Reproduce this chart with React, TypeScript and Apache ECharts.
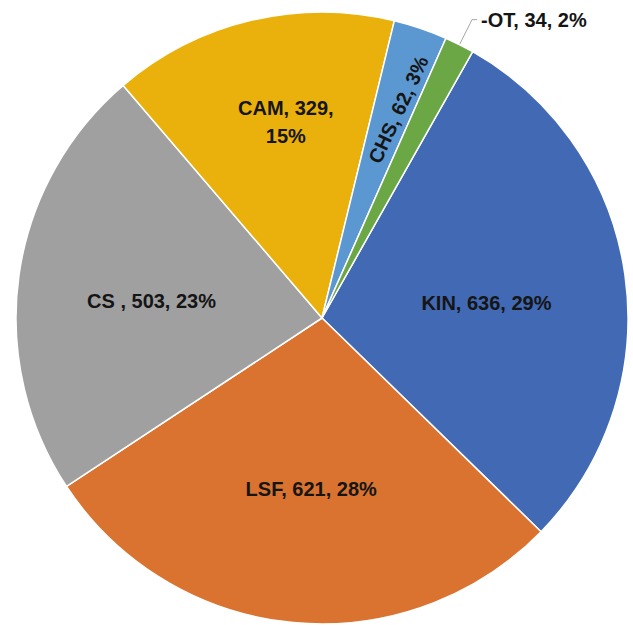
import React, { useEffect, useRef } from "react";
import * as echarts from "echarts";

const categories = ["KIN", "LSF", "CS ", "CAM", "CHS", "-OT"];
const values = [636, 621, 503, 329, 62, 34];
const colors = ["#4169b4", "#d9732f", "#a0a0a0", "#eab10c", "#5b97d0", "#6ba744"];

export default function App() {
  const ref = useRef<HTMLDivElement>(null);
  useEffect(() => {
    document.body.style.margin = "0";
    const chart = echarts.init(ref.current!, null, { renderer: "svg" });
    const labelShift: Record<number, { dx: number; dy: number }> = {
      0: { dx: 10, dy: 7 },
      1: { dx: 4, dy: 16 },
      2: { dx: -16, dy: 5 },
      3: { dx: 0, dy: -44 },
      4: { dx: 66, dy: -2 },
    };
    const data = categories.map((name, i) => {
      const item: any = { name, value: values[i], itemStyle: { color: colors[i] } };
      if (i === 4) item.label = { rotate: 65 };
      if (i === 5) {
        item.label = { position: "outside", distanceToLabelLine: 4 };
        item.labelLine = {
          show: true,
          length: 28,
          length2: 5,
          lineStyle: { color: "#a6a6a6", width: 1 },
        };
      }
      return item;
    });
    chart.setOption({
      animation: false,
      backgroundColor: "#ffffff",
      series: [
        {
          type: "pie",
          center: [322, 318],
          radius: [0, 306],
          startAngle: 60.5,
          clockwise: true,
          avoidLabelOverlap: false,
          itemStyle: { borderColor: "#ffffff", borderWidth: 1.5 },
          label: {
            show: true,
            position: "inside",
            fontFamily: "Liberation Sans, Arial, sans-serif",
            fontWeight: "bold",
            fontSize: 20,
            lineHeight: 28,
            color: "#151515",
            formatter: (p: any) => {
              const pct = Math.round(p.percent);
              return p.dataIndex === 3
                ? `${p.name}, ${p.value},\n${pct}%`
                : `${p.name}, ${p.value}, ${pct}%`;
            },
          },
          labelLine: { show: false },
          labelLayout: (p: any) => {
            const s = labelShift[p.dataIndex];
            return s ? { dx: s.dx, dy: s.dy } : {};
          },
          emphasis: { disabled: true },
          data,
        },
      ],
    });
    return () => chart.dispose();
  }, []);
  return <div ref={ref} style={{ width: 633, height: 625 }} />;
}
